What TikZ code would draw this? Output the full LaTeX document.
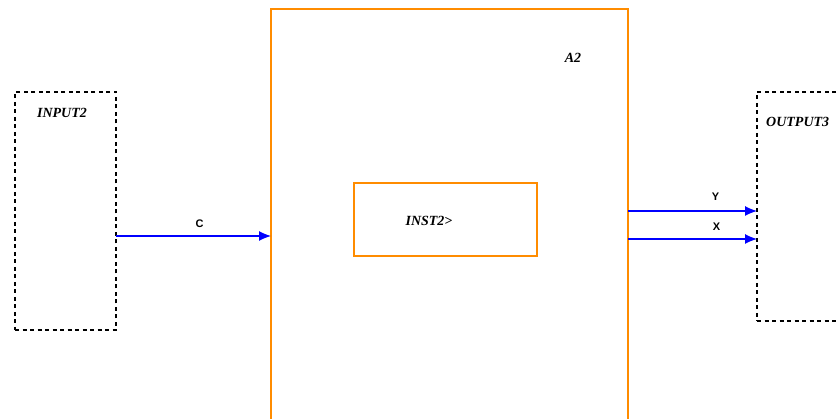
\documentclass[tikz,border=0pt]{standalone}
\usepackage{fontspec}
\newfontfamily\lblfont{Liberation Serif}
\newfontfamily\sigfont{Liberation Sans}
\usetikzlibrary{arrows.meta}
\definecolor{blockorange}{RGB}{255,140,0}
\tikzset{
  portbox/.style={draw=black,line width=1.8pt,dash pattern=on 4pt off 3.5pt,inner sep=0pt,outer sep=0pt},
  blockbox/.style={draw=blockorange,line width=1.8pt,inner sep=0pt,outer sep=0pt},
  lbl/.style={font=\fontsize{14}{15}\lblfont\bfseries\itshape,inner sep=0pt},
  sig/.style={font=\fontsize{11}{12}\sigfont\bfseries,inner sep=0pt},
  wire/.style={draw=blue,line width=1.2pt,-{Latex[length=12pt,width=10pt]}}
}
\begin{document}
\begin{tikzpicture}[x=1pt,y=-1pt]
\clip (0,0) rectangle (838,419);
\useasboundingbox (0,0) rectangle (838,419);
% boxes
\node[portbox,minimum width=101pt,minimum height=238pt]  (inputii)   at (65.5,211)  {};
\node[blockbox,minimum width=357pt,minimum height=480pt] (aii)       at (449.5,249) {};
\node[blockbox,minimum width=183pt,minimum height=73pt]  (instii)    at (445.5,219.5) {};
\node[portbox,minimum width=120pt,minimum height=229pt]  (outputiii) at (817,206.5) {};
% labels
\node[lbl] (inputiilbl)   at (62,113)  {INPUT2};
\node[lbl] (aiilbl)       at (573,58)  {A2};
\node[lbl] (instiilbl)    at (429,221) {INST2>};
\node[lbl,anchor=west] (outputiiilbl) at (766,122) {OUTPUT3};
% ports
\coordinate (cS) at (inputii.east |- 0,236);%
\coordinate (cE) at (aii.west |- 0,236);%
\coordinate (yS) at (aii.east |- 0,211);%
\coordinate (yE) at (outputiii.west |- 0,211);%
\coordinate (xS) at (aii.east |- 0,239);%
\coordinate (xE) at (outputiii.west |- 0,239);%
% signals
\draw[wire] (cS) -- node[sig,above=8pt,xshift=6pt] {C} (cE);
\draw[wire] (yS) -- node[sig,above=10pt,xshift=23pt] {Y} (yE);
\draw[wire] (xS) -- node[sig,above=8pt,xshift=24pt] {X} (xE);
\end{tikzpicture}
\end{document}
